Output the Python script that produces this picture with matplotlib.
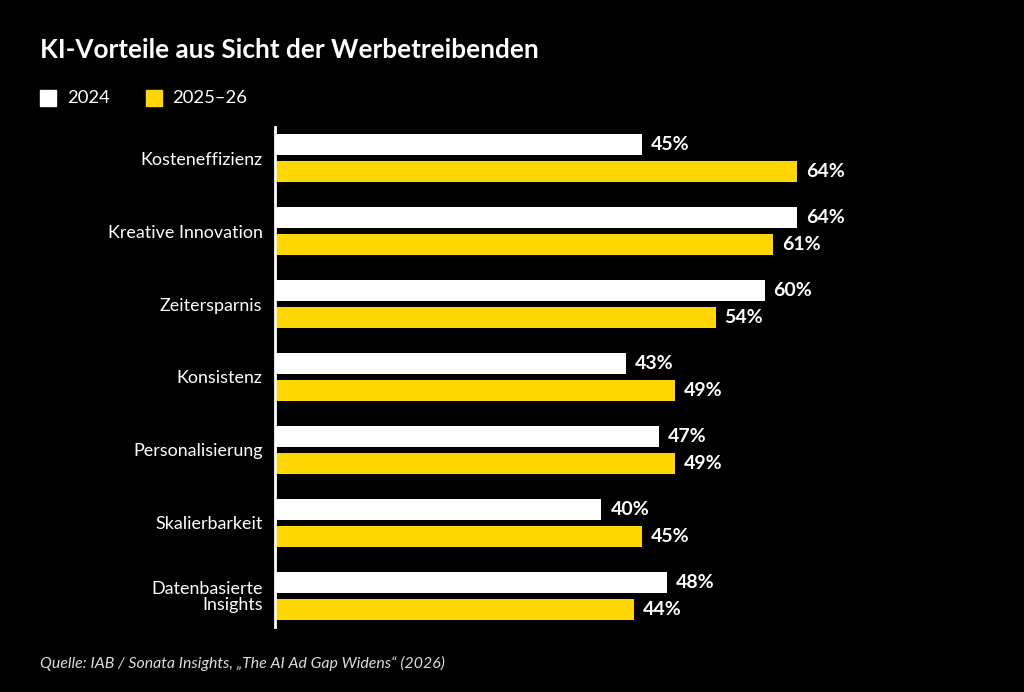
import matplotlib.pyplot as plt
import numpy as np

# data
categories = ['Kosteneffizienz', 'Kreative Innovation', 'Zeitersparnis', 'Konsistenz',
              'Personalisierung', 'Skalierbarkeit', 'Datenbasierte\nInsights']
values_2024 = [45, 64, 60, 43, 47, 40, 48]
values_2025 = [64, 61, 54, 49, 49, 45, 44]
series_labels = ['2024', '2025–26']

white = '#FFFFFF'
yellow = '#FFD600'
font = ['Lato', 'DejaVu Sans']

fig = plt.figure(figsize=(10.24, 6.92), dpi=100)
fig.set_facecolor('black')
ax = fig.add_axes([275/1024, 65/692, 725/1024, 500/692])
ax.set_facecolor('black')

y = np.arange(len(categories))
h = 0.29
off = 0.185
ax.barh(y - off, values_2024, height=h, color=white)
ax.barh(y + off, values_2025, height=h, color=yellow)

# value labels
for i in range(len(categories)):
    ax.text(values_2024[i] + 1.1, y[i] - off, f'{values_2024[i]}%', va='center', ha='left',
            color='white', fontsize=14, fontweight='bold', family=font)
    ax.text(values_2025[i] + 1.1, y[i] + off, f'{values_2025[i]}%', va='center', ha='left',
            color='white', fontsize=14, fontweight='bold', family=font)

ax.set_xlim(0, 725/8.16)
ax.set_ylim(6.425, -0.425)
ax.set_yticks(y)
ax.set_yticklabels(categories, color='white', fontsize=12.9, family=font, linespacing=0.95)
ax.tick_params(axis='y', length=0, pad=9)
ax.set_xticks([])
for s in ['top', 'right', 'bottom']:
    ax.spines[s].set_visible(False)
ax.spines['left'].set_color('white')
ax.spines['left'].set_linewidth(2)

# title, legend, source
fig.text(40/1024, 1 - 50/692, 'KI-Vorteile aus Sicht der Werbetreibenden', color='white',
         fontsize=18.8, fontweight='bold', family=font, va='center', ha='left')
fig.patches.append(plt.Rectangle((40/1024, 1 - 106/692), 16/1024, 16/692,
                                 transform=fig.transFigure, color=white))
fig.text(67/1024, 1 - 98/692, series_labels[0], color='white', fontsize=13.3,
         family=font, va='center', ha='left')
fig.patches.append(plt.Rectangle((146/1024, 1 - 106/692), 16/1024, 16/692,
                                 transform=fig.transFigure, color=yellow))
fig.text(172/1024, 1 - 98/692, series_labels[1], color='white', fontsize=13.3,
         family=font, va='center', ha='left')
fig.text(40/1024, 1 - 663/692, 'Quelle: IAB / Sonata Insights, „The AI Ad Gap Widens“ (2026)',
         color='#DDDDDD', fontsize=11.4, fontstyle='italic', family=font, va='center', ha='left')

fig.savefig('out.png', dpi=100, facecolor='black')
